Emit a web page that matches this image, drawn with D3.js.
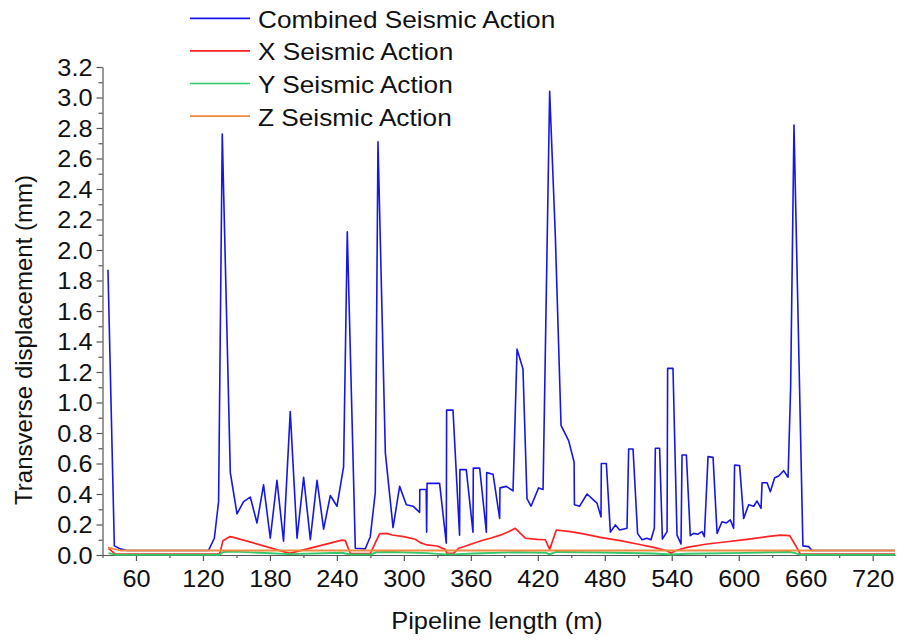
<!DOCTYPE html>
<html><head><meta charset="utf-8">
<script src="https://cdn.jsdelivr.net/npm/d3@7"></script>
<style>
body{margin:0;background:#fff}
text{font-family:Arial,"Liberation Sans",sans-serif}
</style>
</head><body>
<svg id="c" width="908" height="640"></svg>
<script>
// ---- Data (pipeline length in m, transverse displacement in mm) ----
const combinedLen = [34.9,40.6,46,51.9,125.0,130.2,134.0,137.3,144.5,150.5,156.4,162.4,168.4,174.3,180.3,186.3,192.2,198.2,204.3,210.2,216.2,222.2,228.1,234.1,240.1,246.0,249.3,256.5,265.4,269.9,274.4,276.8,283.4,290.3,296.2,302.2,308.2,314.1,314.3,320.0,320.4,320.8,332.0,338.0,338.3,344.0,349.9,350.2,355.9,361.9,362.2,367.9,373.9,374.2,379.9,385.8,386.1,391.8,397.8,401.4,406.7,410.3,413.9,420.7,424.7,430.6,435.7,440.8,447.6,452.5,452.8,457.5,464.1,470.0,473.0,476.6,476.9,481.4,485.0,489.5,493.3,499.9,501.4,505.3,509.4,513.4,517.8,521.4,524.4,525.3,529.1,531.6,535.8,536.3,541.1,544.7,548.3,549.2,553.1,556.6,559.6,563.2,567.1,569.2,572.5,577.0,580.6,585.0,588.9,592.5,595.4,596.3,600.8,604.4,608.9,613.4,616.4,620.0,620.9,625.4,628.3,632.2,635.8,640.2,644.2,646.5,649.5,657.5,662.6,665.7,740];
const combinedVal = [1.87,0.06,0.04,0.03,0.03,0.11,0.35,2.76,0.54,0.27,0.35,0.38,0.21,0.46,0.11,0.49,0.09,0.94,0.11,0.51,0.10,0.49,0.17,0.39,0.32,0.58,2.12,0.044,0.04,0.12,0.41,2.71,0.67,0.18,0.45,0.33,0.32,0.28,0.43,0.43,0.15,0.47,0.47,0.077,0.95,0.95,0.13,0.56,0.56,0.15,0.57,0.57,0.15,0.54,0.53,0.24,0.44,0.45,0.42,1.35,1.22,0.37,0.32,0.44,0.43,3.04,2.09,0.85,0.75,0.61,0.33,0.32,0.40,0.36,0.34,0.25,0.60,0.60,0.15,0.197,0.164,0.175,0.695,0.695,0.14,0.10,0.11,0.10,0.175,0.70,0.70,0.105,0.153,1.224,1.224,0.13,0.072,0.656,0.656,0.127,0.142,0.136,0.153,0.12,0.645,0.64,0.142,0.218,0.21,0.23,0.175,0.59,0.586,0.24,0.33,0.32,0.354,0.306,0.474,0.474,0.415,0.507,0.518,0.553,0.51,1.1,2.82,0.06,0.055,0.03,0.03];

const xActLen = [35.4,41.5,134.9,137.9,143.9,147.4,197.6,244.6,247.5,252.0,270.0,275.3,278.3,284.9,289.4,299.8,310.2,314.7,320.7,329.7,337.1,338.6,344.6,349.0,353.5,362.5,371.4,377.4,386.4,393.8,399.8,402.8,408.8,419.3,426.7,430.6,436.6,449.1,461.0,476.0,493.9,508.9,523.8,535.8,539.3,543.2,553.7,571.6,589.5,607.4,625.4,637.3,645.6,650.7,655.2,740];
const xActVal = [0.044,0.006,0.006,0.094,0.12,0.116,0.011,0.098,0.094,0.01,0.01,0.094,0.138,0.142,0.131,0.12,0.103,0.081,0.066,0.059,0.037,0.011,0.011,0.044,0.054,0.077,0.098,0.11,0.13,0.153,0.175,0.153,0.11,0.103,0.10,0.037,0.164,0.153,0.138,0.116,0.094,0.072,0.05,0.028,0.011,0.028,0.05,0.072,0.087,0.103,0.12,0.13,0.127,0.066,0.006,0.006];

const yActLen = [35.4,41.5,134.9,137.9,147.4,197.6,244.6,252.0,270.0,275.3,289.4,320.7,337.1,344.6,362.5,399.8,426.7,430.6,436.6,476.0,523.8,539.3,553.7,607.4,645.6,650.7,655.2,740];
const yActVal = [0.012,0.002,0.002,0.02,0.022,0.006,0.015,0.003,0.003,0.018,0.02,0.012,0.004,0.004,0.01,0.018,0.015,0.005,0.02,0.016,0.01,0.003,0.008,0.014,0.02,0.012,0.002,0.002];

const zActLen = [34.9,40.0,46.0,740];
const zActVal = [0.05,0.04,0.03,0.03];

const seriesNames = ["Combined Seismic Action","X Seismic Action","Y Seismic Action","Z Seismic Action"];
const seriesColors = ["#1616e8","#ff2222","#33c86a","#f08a3c"];
const seriesWidths = [1.6, 1.7, 1.9, 1.9];

const xMajorTicks = [60,120,180,240,300,360,420,480,540,600,660,720];
const xMinorTicks = [30,90,150,210,270,330,390,450,510,570,630,690];
const yMajorTicks = d3.range(0, 3.21, 0.2).map(v => +v.toFixed(1));
const yMinorTicks = d3.range(0.1, 3.2, 0.2).map(v => +v.toFixed(1));

// ---- Chart ----
const svg = d3.select("#c");
const x = d3.scaleLinear().domain([30, 740]).range([102.5, 895]);
const y = d3.scaleLinear().domain([0, 3.2]).range([555, 67]);
const STRETCH = 1.1;
const axisColor = "#555";

// x axis
const gx = svg.append("g").attr("transform", "translate(0,555)");
gx.call(d3.axisBottom(x).tickValues(xMajorTicks).tickSize(6).tickSizeOuter(0).tickFormat(d3.format("d")));
const gxm = svg.append("g").attr("transform", "translate(0,555)");
gxm.call(d3.axisBottom(x).tickValues(xMinorTicks).tickSize(3).tickFormat(""));
gxm.select(".domain").remove();

// y axis
const gy = svg.append("g").attr("transform", "translate(102.5,0)");
gy.call(d3.axisLeft(y).tickValues(yMajorTicks).tickSize(6).tickSizeOuter(0).tickFormat(d3.format(".1f")));
const gym = svg.append("g").attr("transform", "translate(102.5,0)");
gym.call(d3.axisLeft(y).tickValues(yMinorTicks).tickSize(4).tickFormat(""));
gym.select(".domain").remove();

svg.selectAll(".domain, .tick line").attr("stroke", axisColor).attr("stroke-width", 1.2);
gx.selectAll(".tick text")
  .attr("y", 0).attr("dy", null)
  .attr("transform", `translate(0,32) scale(${STRETCH},1)`)
  .attr("font-size", 23).attr("fill", "#111")
  .style("font-family", "Arial, 'Liberation Sans', sans-serif");
gy.selectAll(".tick text")
  .attr("x", 0).attr("dy", null).attr("y", 0)
  .attr("transform", `translate(-10,8) scale(${STRETCH},1)`)
  .attr("font-size", 23).attr("fill", "#111")
  .style("font-family", "Arial, 'Liberation Sans', sans-serif");

// axis titles
svg.append("text")
  .attr("transform", `translate(497,629) scale(1.08,1)`)
  .attr("text-anchor", "middle").attr("font-size", 23.5).attr("fill", "#111")
  .text("Pipeline length (m)");
svg.append("text")
  .attr("transform", "translate(32,340) rotate(-90)")
  .attr("text-anchor", "middle").attr("font-size", 24).attr("fill", "#111")
  .text("Transverse displacement (mm)");

// lines
const line = d3.line().x(d => x(d[0])).y(d => y(d[1]));
const seriesData = [
  d3.zip(combinedLen, combinedVal),
  d3.zip(xActLen, xActVal),
  d3.zip(yActLen, yActVal),
  d3.zip(zActLen, zActVal)
];
seriesData.forEach((d, i) => {
  svg.append("path").datum(d)
    .attr("d", line)
    .attr("fill", "none")
    .attr("stroke", seriesColors[i])
    .attr("stroke-width", seriesWidths[i])
    .attr("stroke-linejoin", "round");
});

// legend
const lg = svg.append("g");
seriesNames.forEach((name, i) => {
  const ly = 18.3 + i * 32.6;
  lg.append("line").attr("x1", 190).attr("x2", 250).attr("y1", ly).attr("y2", ly)
    .attr("stroke", seriesColors[i]).attr("stroke-width", 1.7);
  lg.append("text")
    .attr("transform", `translate(258,${ly + 9.5}) scale(1.14,1)`)
    .attr("font-size", 23).attr("fill", "#111")
    .text(name);
});
</script>
</body></html>
